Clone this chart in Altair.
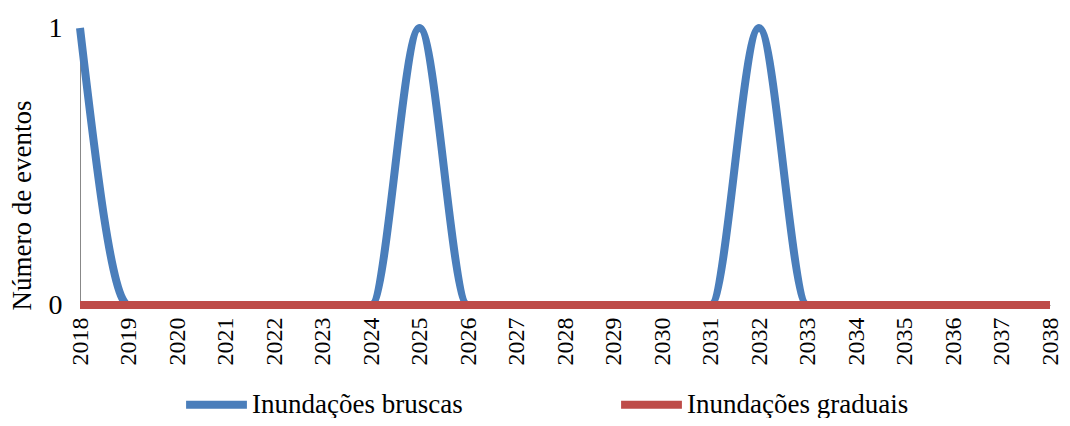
import altair as alt
import pandas as pd

years = list(range(2018, 2039))
bruscas = [1, 0, 0, 0, 0, 0, 0, 1, 0, 0, 0, 0, 0, 0, 1, 0, 0, 0, 0, 0, 0]
graduais = [0] * 21
series_names = ["Inundações bruscas", "Inundações graduais"]
colors = ["#4a7ebb", "#be4b48"]

df = pd.DataFrame({
    "Ano": years * 2,
    "Valor": bruscas + graduais,
    "Serie": [series_names[0]] * len(years) + [series_names[1]] * len(years),
})

FONT = "Liberation Serif"

chart = alt.Chart(df).mark_line(strokeWidth=8, interpolate="monotone", strokeCap="butt").encode(
    x=alt.X("Ano:Q",
            scale=alt.Scale(domain=[2018, 2038], nice=False, zero=False),
            axis=alt.Axis(values=years, format="d", labelAngle=270, labelAlign="right",
                          labelBaseline="middle", labelFontSize=24, labelFont=FONT,
                          labelColor="black", labelPadding=12, ticks=False, grid=False,
                          domainColor="#888888", title=None, labelOverlap=False)),
    y=alt.Y("Valor:Q",
            scale=alt.Scale(domain=[0, 1], nice=False),
            axis=alt.Axis(values=[0, 1], format="d", labelFontSize=28, labelFont=FONT,
                          labelColor="black", labelPadding=18, ticks=False, grid=False,
                          domainColor="#888888", title="Número de eventos",
                          titleFont=FONT, titleFontSize=27, titleFontWeight="normal",
                          titleColor="black", titleAngle=270, titleX=-58, titleY=177,
                          titleAlign="center", titleBaseline="middle")),
    color=alt.Color("Serie:N",
                    scale=alt.Scale(domain=series_names, range=colors),
                    legend=alt.Legend(title=None, orient="none", direction="horizontal",
                                      legendX=102, legendY=342,
                                      symbolType="stroke", symbolSize=3700,
                                      symbolStrokeWidth=8, labelFont=FONT,
                                      labelFontSize=27, labelColor="black",
                                      labelLimit=400,
                                      labelOffset=1, columnPadding=142)),
    order=alt.Order("Serie:N", sort="ascending"),
).properties(
    width=970, height=277,
    autosize=alt.AutoSizeParams(type="none"),
    padding={"left": 72, "top": 20, "right": 12, "bottom": 113},
).configure_view(stroke=None)

chart.save("out.html", embed_options={"renderer": "svg", "actions": False})
